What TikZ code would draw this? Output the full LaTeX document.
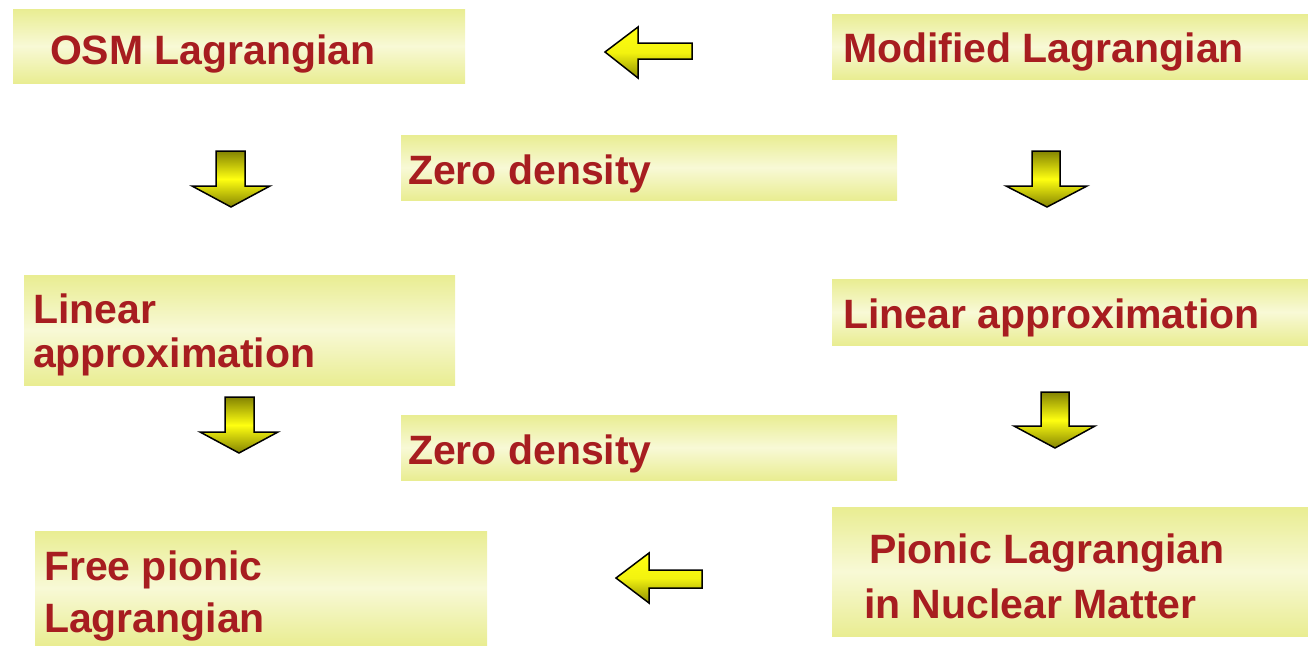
\documentclass[tikz,border=0pt]{standalone}
\usepackage{fontspec}
\setmainfont{Liberation Sans}
\definecolor{boxedge}{HTML}{E9ED92}
\definecolor{boxmid}{HTML}{F8F9D6}
\definecolor{txtred}{HTML}{A71D20}
\definecolor{arrdark}{HTML}{848402}
\definecolor{arrbright}{HTML}{FFFF10}
\tikzset{
  box/.style={anchor=north west, inner sep=0pt, outer sep=0pt,
    top color=boxedge, bottom color=boxedge, middle color=boxmid},
  lbl/.style={anchor=base west, inner sep=0pt, outer sep=0pt, text=txtred,
    font=\bfseries\fontsize{41}{45}\selectfont},
  downarrow/.style={draw=black, line width=1.5pt, line join=miter,
    top color=arrdark, bottom color=arrdark, middle color=arrbright},
  leftarrow/.style={draw=black, line width=1.5pt, line join=miter,
    top color=arrbright, bottom color=arrdark!90!yellow, middle color=arrbright!90!arrdark}
}
\begin{document}
\begin{tikzpicture}[x=1pt,y=-1pt]
\useasboundingbox (0,0) rectangle (1308,645);
% boxes
\node[box, minimum width=452pt, minimum height=74pt] (b1) at (13,9) {};
\node[box, minimum width=476pt, minimum height=65pt] (b2) at (832,14) {};
\node[box, minimum width=496pt, minimum height=65pt] (b3) at (401,135) {};
\node[box, minimum width=431pt, minimum height=110pt] (b4) at (24,275) {};
\node[box, minimum width=476pt, minimum height=66pt] (b5) at (832,279) {};
\node[box, minimum width=496pt, minimum height=65pt] (b6) at (401,415) {};
\node[box, minimum width=452pt, minimum height=114pt] (b7) at (35,531) {};
\node[box, minimum width=476pt, minimum height=129pt] (b8) at (832,507) {};
% texts
\node[lbl] (t1) at (50,64) {OSM Lagrangian};
\node[lbl] (t2) at (843,62) {Modified Lagrangian};
\node[lbl] (t3) at (408,184) {Zero density};
\node[lbl] (t4a) at (33,323) {Linear};
\node[lbl] (t4b) at (33,367) {approximation};
\node[lbl] (t5) at (843,328) {Linear approximation};
\node[lbl] (t6) at (408,464) {Zero density};
\node[lbl] (t7a) at (44,580) {Free pionic};
\node[lbl] (t7b) at (44,632) {Lagrangian};
\node[lbl] (t8a) at (869,563) {Pionic Lagrangian};
\node[lbl] (t8b) at (864,618) {in Nuclear Matter};
% block arrows
\shade[leftarrow] (692,43) -- (638,43) -- (638,27) -- (605,52) -- (638,78) -- (638,59) -- (692,59) -- cycle;
\shade[leftarrow] (702,570) -- (649,570) -- (649,553) -- (616,578) -- (649,603) -- (649,588) -- (702,588) -- cycle;
\shade[downarrow] (216,151) -- (245,151) -- (245,186) -- (270,186) -- (231,207) -- (192,186) -- (216,186) -- cycle;
\shade[downarrow] (225,397) -- (254,397) -- (254,432) -- (278,432) -- (239,453) -- (200,432) -- (225,432) -- cycle;
\shade[downarrow] (1032,151) -- (1060,151) -- (1060,186) -- (1087,186) -- (1047,207) -- (1006,186) -- (1032,186) -- cycle;
\shade[downarrow] (1041,392) -- (1069,392) -- (1069,426) -- (1095,426) -- (1055,448) -- (1014,426) -- (1041,426) -- cycle;
\end{tikzpicture}
\end{document}
